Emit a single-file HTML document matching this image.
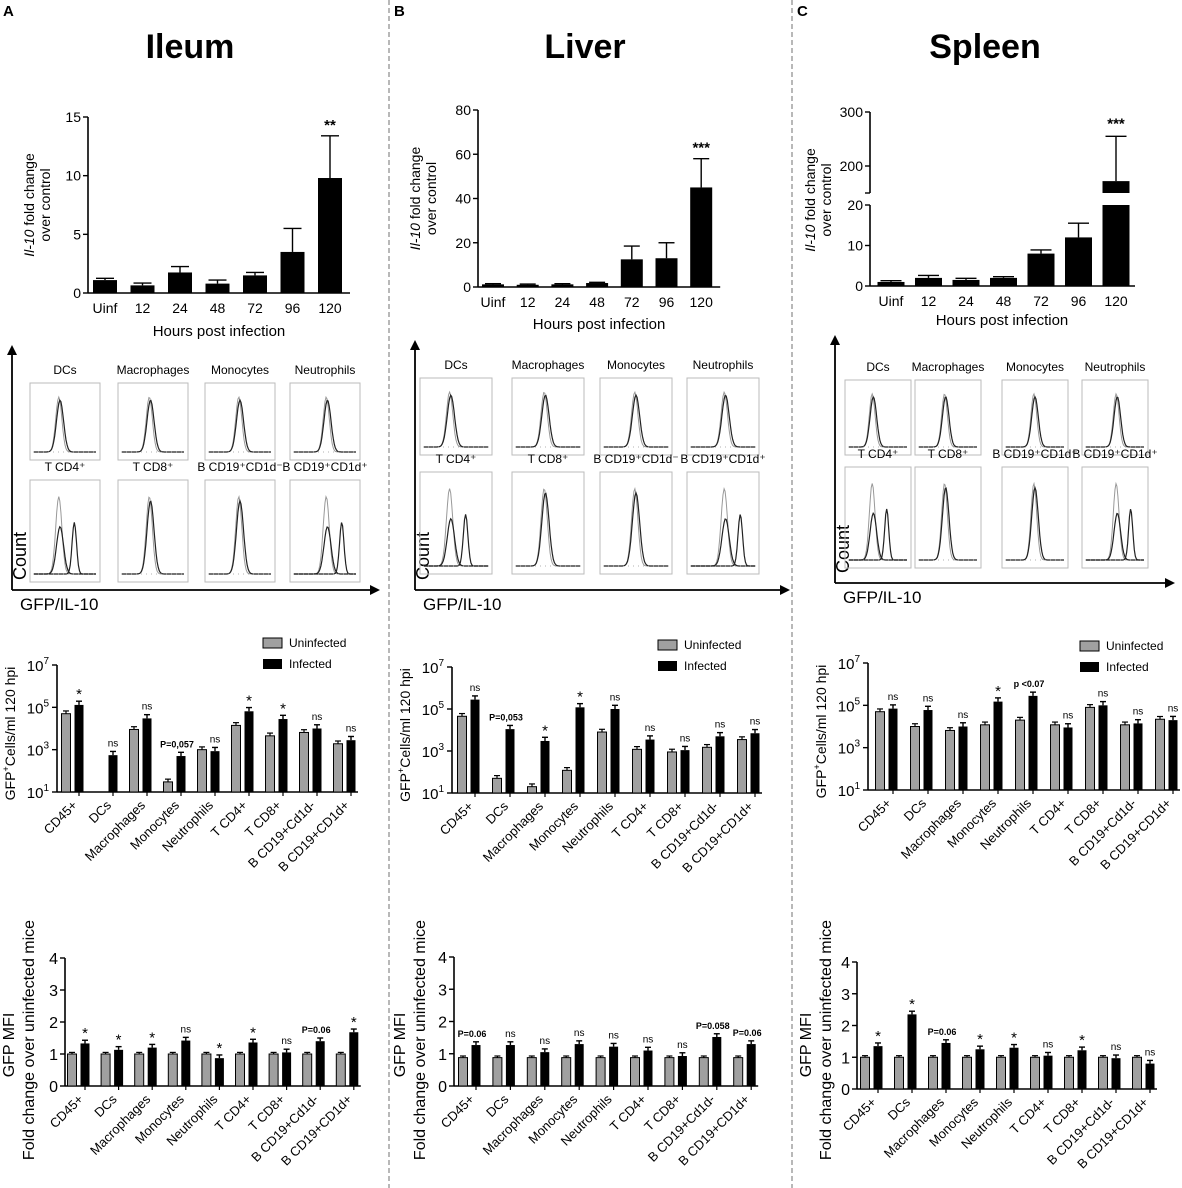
<!DOCTYPE html>
<html><head><meta charset="utf-8"><style>
body{margin:0;background:#fff}
svg{display:block;font-family:"Liberation Sans",Arial,sans-serif}
</style></head><body>
<svg id="fig" width="1182" height="1188" viewBox="0 0 1182 1188" xmlns="http://www.w3.org/2000/svg">
<line x1="389" y1="0" x2="389" y2="1188" stroke="#888" stroke-dasharray="5,3" stroke-width="1.2"/>
<line x1="792" y1="0" x2="792" y2="1188" stroke="#888" stroke-dasharray="5,3" stroke-width="1.2"/>
<text x="3" y="16" font-size="15" font-weight="bold">A</text>
<text x="394" y="16" font-size="15" font-weight="bold">B</text>
<text x="797" y="16" font-size="15" font-weight="bold">C</text>
<text x="190" y="58" font-size="34" font-weight="bold" text-anchor="middle">Ileum</text>
<text x="585" y="58" font-size="34" font-weight="bold" text-anchor="middle">Liver</text>
<text x="985" y="58" font-size="34" font-weight="bold" text-anchor="middle">Spleen</text>
</svg>
<script>
// ---------- DATA ----------
const hours = ["Uinf","12","24","48","72","96","120"];
const ileumIl10 = [1.1,0.65,1.75,0.8,1.5,3.5,9.8];
const ileumIl10Err = [0.15,0.2,0.5,0.3,0.25,2.0,3.6];
const liverIl10 = [1.2,1.0,1.2,1.8,12.5,13,45];
const liverIl10Err = [0.3,0.3,0.3,0.3,6,7,13];
const spleenIl10 = [1,2,1.5,2,8,12,172];
const spleenIl10Err = [0.3,0.6,0.4,0.3,0.9,3.5,83];
const ileumTicks = [0,5,10,15];
const liverTicks = [0,20,40,60,80];
const cells = ["CD45+","DCs","Macrophages","Monocytes","Neutrophils","T CD4+","T CD8+","B CD19+Cd1d-","B CD19+CD1d+"];
const ileumUninf = [5e4,null,9e3,30,1e3,1.4e4,4.5e3,6.5e3,1.9e3];
const ileumInf = [1.3e5,550,3e4,500,850,6.5e4,2.8e4,1e4,2.8e3];
const ileumSig = ["*","ns","ns","P=0,057","ns","*","*","ns","ns"];
const liverUninf = [4.5e4,50,20,120,8e3,1.2e3,900,1.5e3,3.5e3];
const liverInf = [2.8e5,1.1e4,3e3,1.2e5,1e5,3.5e3,1.1e3,5e3,7e3];
const liverSig = ["ns","P=0,053","*","*","ns","ns","ns","ns","ns"];
const spleenUninf = [5e4,1e4,6.5e3,1.2e4,2e4,1.2e4,8e4,1.2e4,2.2e4];
const spleenInf = [7e4,6e4,1e4,1.5e5,2.8e5,9e3,1e5,1.4e4,2e4];
const spleenSig = ["ns","ns","ns","*","p <0.07","ns","ns","ns","ns"];
const logTicks = [1,3,5,7];
const ileumMfiU = [1,1,1,1,1,1,1,1,1];
const ileumMfiI = [1.33,1.13,1.2,1.42,0.87,1.36,1.05,1.4,1.68];
const ileumMfiSig = ["*","*","*","ns","*","*","ns","P=0.06","*"];
const liverMfiU = [0.88,0.88,0.88,0.88,0.88,0.88,0.88,0.88,0.88];
const liverMfiI = [1.27,1.27,1.05,1.3,1.22,1.1,0.93,1.52,1.3];
const liverMfiSig = ["P=0.06","ns","ns","ns","ns","ns","ns","P=0.058","P=0.06"];
const spleenMfiU = [1,1,1,1,1,1,1,1,1];
const spleenMfiI = [1.35,2.35,1.45,1.25,1.3,1.05,1.22,0.97,0.8];
const spleenMfiSig = ["*","*","P=0.06","*","*","ns","*","ns","ns"];
const mfiTicks = [0,1,2,3,4];
const histRow1 = ["DCs","Macrophages","Monocytes","Neutrophils"];
const histRow2 = ["T CD4⁺","T CD8⁺","B CD19⁺CD1d⁻","B CD19⁺CD1d⁺"];

// ---------- helpers ----------
const NS="http://www.w3.org/2000/svg";
const svg=document.getElementById('fig');
function mk(tag,attrs,parent){const e=document.createElementNS(NS,tag);for(const k in attrs)e.setAttribute(k,attrs[k]);(parent||svg).appendChild(e);return e;}
function txt(x,y,s,size,extra,parent){const e=mk('text',Object.assign({x:x,y:y,'font-size':size},extra||{}),parent);e.textContent=s;return e;}

function topChart(name,vals,errs,ticks,ax,ymin,y0,yTop,xc0,step,bw,labelY,titleY,stars,tOff){
  const g=mk('g',{});
  
  
  const maxT=ticks[ticks.length-1];
  const ys=v=>y0-(v/maxT)*(y0-yTop);
  const xr=xc0+step*(vals.length-1)+bw/2+8;
  mk('line',{x1:ax,y1:yTop,x2:ax,y2:y0,stroke:'#000','stroke-width':1.6},g);
  mk('line',{x1:ax,y1:y0,x2:xr,y2:y0,stroke:'#000','stroke-width':1.6},g);
  ticks.forEach(t=>{mk('line',{x1:ax-5,y1:ys(t),x2:ax,y2:ys(t),stroke:'#000','stroke-width':1.4},g);
    const tl=txt(ax-7,ys(t)+5,String(t),14,{'text-anchor':'end'},g);
    
    });
  vals.forEach((v,i)=>{const cx=xc0+step*i;
    mk('line',{x1:cx,y1:ys(v),x2:cx,y2:ys(v+errs[i]),stroke:'#000','stroke-width':1.4},g);
    mk('line',{x1:cx-bw/2+3,y1:ys(v+errs[i]),x2:cx+bw/2-3,y2:ys(v+errs[i]),stroke:'#000','stroke-width':1.4},g);
    const r=mk('rect',{x:cx-bw/2,y:ys(v),width:bw,height:y0-ys(v),fill:'#000'},g);
    
    
    const l=txt(cx,labelY,hours[i],14,{'text-anchor':'middle'},g);
    
    });
  const last=vals.length-1;
  txt(xc0+step*last,ys(vals[last]+errs[last])-6,stars,15,{'text-anchor':'middle','font-weight':'bold'},g);
  const xt=txt((ax+xr)/2,titleY,'Hours post infection',15,{'text-anchor':'middle'},g);
  
  
  const yt=mk('text',{transform:`translate(${ax-tOff},${(y0+yTop)/2}) rotate(-90)`,'font-size':14,'text-anchor':'middle'},g);
  yt.innerHTML='<tspan font-style="italic">Il-10</tspan> fold change';
  
  
  txt(0,0,'over control',14,{transform:`translate(${ax-tOff+16},${(y0+yTop)/2}) rotate(-90)`,'text-anchor':'middle'},g);
}
topChart('ileum',ileumIl10,ileumIl10Err,ileumTicks,88,0,293,117,105,37.5,24,313,336,'**',54);
topChart('liver',liverIl10,liverIl10Err,liverTicks,478,0,287,110,493,34.7,22,307,329,'***',58);

// spleen broken axis
(function(){
  const g=mk('g',{});
  
  
  const ax=870,y0=286,y20=205,yBrk=193;
  const ys=v=> v<=20 ? y0-(v/20)*(y0-y20) : 166-(v-200)*0.54;
  mk('line',{x1:ax,y1:y0,x2:ax,y2:y20,stroke:'#000','stroke-width':1.6},g);
  mk('line',{x1:ax,y1:yBrk,x2:ax,y2:112,stroke:'#000','stroke-width':1.6},g);
  mk('line',{x1:ax-5,y1:yBrk,x2:ax,y2:yBrk,stroke:'#000','stroke-width':1.4},g);
  mk('line',{x1:ax,y1:y0,x2:1135,y2:y0,stroke:'#000','stroke-width':1.6},g);
  [0,10,20].forEach(t=>{mk('line',{x1:ax-5,y1:ys(t),x2:ax,y2:ys(t),stroke:'#000','stroke-width':1.4},g);txt(ax-7,ys(t)+5,String(t),14,{'text-anchor':'end'},g);});
  [200,300].forEach(t=>{mk('line',{x1:ax-5,y1:ys(t),x2:ax,y2:ys(t),stroke:'#000','stroke-width':1.4},g);txt(ax-7,ys(t)+5,String(t),14,{'text-anchor':'end'},g);});
  const step=37.5,bw=27,xc0=891;
  spleenIl10.forEach((v,i)=>{const cx=xc0+step*i;const top=v+spleenIl10Err[i];
    mk('line',{x1:cx,y1:ys(v),x2:cx,y2:ys(top),stroke:'#000','stroke-width':1.4},g);
    mk('line',{x1:cx-bw/2+3,y1:ys(top),x2:cx+bw/2-3,y2:ys(top),stroke:'#000','stroke-width':1.4},g);
    if(v<=20){const r=mk('rect',{x:cx-bw/2,y:ys(v),width:bw,height:y0-ys(v),fill:'#000'},g);
      
      }
    else{const r=mk('rect',{x:cx-bw/2,y:y20,width:bw,height:y0-y20,fill:'#000'},g);
      
      
      mk('rect',{x:cx-bw/2,y:ys(v),width:bw,height:yBrk-ys(v),fill:'#000'},g);}
    txt(cx,306,hours[i],14,{'text-anchor':'middle'},g);});
  txt(xc0+step*6,ys(spleenIl10[6]+spleenIl10Err[6])-8,'***',15,{'text-anchor':'middle','font-weight':'bold'},g);
  txt(1002,325,'Hours post infection',15,{'text-anchor':'middle'},g);
  const yt=mk('text',{transform:`translate(${ax-55},200) rotate(-90)`,'font-size':14,'text-anchor':'middle'},g);
  yt.innerHTML='<tspan font-style="italic">Il-10</tspan> fold change';
  txt(0,0,'over control',14,{transform:`translate(${ax-39},200) rotate(-90)`,'text-anchor':'middle'},g);
})();

// ---------- histograms ----------
function peak(x0,w,yb,h,c,s,amp){let d='';for(let i=0;i<=60;i++){const x=x0+w*i/60;const y=yb-amp*h*Math.exp(-Math.pow((x-(x0+w*c))/(w*s),2));d+=(i?'L':'M')+x.toFixed(1)+','+y.toFixed(1);}return d;}
function histPanel(name,axX,axTop,axY,axRight,xs,w,r1,r2){
  const g=mk('g',{});
  
  
  mk('line',{x1:axX,y1:axY,x2:axX,y2:axTop+8,stroke:'#000','stroke-width':1.8},g);
  mk('polygon',{points:`${axX-5},${axTop+10} ${axX+5},${axTop+10} ${axX},${axTop}`,fill:'#000'},g);
  mk('line',{x1:axX,y1:axY,x2:axRight-8,y2:axY,stroke:'#000','stroke-width':1.8},g);
  mk('polygon',{points:`${axRight-10},${axY-5} ${axRight-10},${axY+5} ${axRight},${axY}`,fill:'#000'},g);
  txt(0,0,'Count',18,{transform:`translate(${axX+14},${axY-10}) rotate(-90)`},g);
  txt(axX+8,axY+20,'GFP/IL-10',17,{},g);
  [[r1,histRow1],[r2,histRow2]].forEach(([r,labels],ri)=>{
    labels.forEach((lab,i)=>{const x=xs[i];
      const b=mk('rect',{x:x,y:r[0],width:w,height:r[1]-r[0],fill:'none',stroke:'#bbb','stroke-width':1},g);
      
      
      txt(x+w/2,r[0]-9,lab,12,{'text-anchor':'middle'},g);
      const yb=r[1]-8,h=r[1]-r[0]-16;
      const c=0.4+0.04*i, two=(ri===1&&(i===0||i===3));
      mk('path',{d:peak(x+4,w-8,yb,h,c,0.07,0.9),fill:'none',stroke:'#999','stroke-width':1},g);
      mk('path',{d:peak(x+4,w-8,yb,h,c+0.02,0.08,two?0.55:0.85),fill:'none',stroke:'#222','stroke-width':1.2},g);
      if(two) mk('path',{d:peak(x+4,w-8,yb,h,c+0.25,0.05,0.6),fill:'none',stroke:'#222','stroke-width':1.2},g);
      mk('line',{x1:x+3,y1:yb,x2:x+w-3,y2:yb,stroke:'#999','stroke-width':0.8,'stroke-dasharray':'1,4'},g);
    });});
}
histPanel('ileum',12,345,590,380,[30,118,205,290],70,[383,460],[480,582]);
histPanel('liver',415,340,590,790,[420,512,600,687],72,[378,455],[472,574]);
histPanel('spleen',835,335,583,1175,[845,915,1002,1082],66,[380,455],[467,568]);

// ---------- grouped bar charts ----------
function grouped(name,U,I,sig,ax,x0,step,y0,yTop,ticks,logScale,legend,ytitle,off1,off2){
  const g=mk('g',{});
  
  
  const lo=ticks[0],hi=ticks[ticks.length-1];
  const ys=v=>{const t=logScale?Math.log10(v):v;return y0-(t-lo)/(hi-lo)*(y0-yTop);};
  const xr=x0+step*(U.length-1)+20;
  mk('line',{x1:ax,y1:yTop,x2:ax,y2:y0,stroke:'#000','stroke-width':1.6},g);
  mk('line',{x1:ax,y1:y0,x2:xr,y2:y0,stroke:'#000','stroke-width':1.6},g);
  ticks.forEach(t=>{const y=y0-(t-lo)/(hi-lo)*(y0-yTop);
    mk('line',{x1:ax-5,y1:y,x2:ax,y2:y,stroke:'#000','stroke-width':1.4},g);
    if(logScale){const e=mk('text',{x:ax-8,y:y+6,'font-size':15,'text-anchor':'end'},g);e.innerHTML='10<tspan font-size="10" dy="-7">'+t+'</tspan>';}
    else txt(ax-7,y+6,String(t),16,{'text-anchor':'end'},g);});
  const bw=9,off=13;
  U.forEach((u,i)=>{const cx=x0+step*i;
    mk('line',{x1:cx+off,y1:y0,x2:cx+off,y2:y0+4,stroke:'#000','stroke-width':1.2},g);
    if(u!=null){const yu=ys(u),ye=ys(logScale?u*1.35:u+0.05);
      mk('line',{x1:cx,y1:yu,x2:cx,y2:ye,stroke:'#000','stroke-width':1.2},g);
      mk('line',{x1:cx-3,y1:ye,x2:cx+3,y2:ye,stroke:'#000','stroke-width':1.2},g);
      const r=mk('rect',{x:cx-bw/2,y:yu,width:bw,height:y0-yu,fill:'#a0a0a0',stroke:'#000','stroke-width':1},g);
      
      }
    const bx=cx+off,v=I[i],yi=ys(v),ye=ys(logScale?v*1.5:v+0.1);
    mk('line',{x1:bx,y1:yi,x2:bx,y2:ye,stroke:'#000','stroke-width':1.4},g);
    mk('line',{x1:bx-3,y1:ye,x2:bx+3,y2:ye,stroke:'#000','stroke-width':1.4},g);
    const r2=mk('rect',{x:bx-bw/2,y:yi,width:bw,height:y0-yi,fill:'#000'},g);
    
    
    const s=sig[i],star=s==='*';
    txt(s.length>3?bx-4:bx,ye-(star?2:5),s,star?15:(s.length>3?9:10),{'text-anchor':'middle','font-weight':s.length>3?'bold':'normal'},g);
    const l=txt(0,0,cells[i],13,{transform:`translate(${cx+12},${y0+14}) rotate(-45)`,'text-anchor':'end'},g);
    
    });
  if(legend){const [lx,ly]=legend;
    const a=mk('rect',{x:lx,y:ly,width:19,height:10,fill:'#a0a0a0',stroke:'#000','stroke-width':1},g);
    
    
    txt(lx+26,ly+9,'Uninfected',12,{},g);
    const b=mk('rect',{x:lx,y:ly+21,width:19,height:10,fill:'#000'},g);
    
    
    txt(lx+26,ly+30,'Infected',12,{},g);}
  if(ytitle==='log'){const e=mk('text',{transform:`translate(${ax-42},${(y0+yTop)/2+5}) rotate(-90)`,'font-size':14,'text-anchor':'middle'},g);
    e.innerHTML='GFP<tspan font-size="9" dy="-6">+</tspan><tspan dy="6">Cells/ml 120 hpi</tspan>';}
  else{const f=txt(0,0,'Fold change over uninfected mice',16,{transform:`translate(${ax-off1},1040) rotate(-90)`,'text-anchor':'middle'},g);
    
    
    txt(0,0,'GFP MFI',16,{transform:`translate(${ax-off2},1045) rotate(-90)`,'text-anchor':'middle'},g);}
}
grouped('ileum-gfp-cells-chart',ileumUninf,ileumInf,ileumSig,57,66,34,792,665,logTicks,true,[263,638],'log');
grouped('liver-gfp-cells-chart',liverUninf,liverInf,liverSig,452,462,35,793,667,logTicks,true,[658,640],'log');
grouped('spleen-gfp-cells-chart',spleenUninf,spleenInf,spleenSig,868,880,35,790,663,logTicks,true,[1080,641],'log');
grouped('ileum-mfi-chart',ileumMfiU,ileumMfiI,ileumMfiSig,65,72,33.6,1086,958,mfiTicks,false,null,'mfi',31,51);
grouped('liver-mfi-chart',liverMfiU,liverMfiI,liverMfiSig,454,463,34.4,1086,957,mfiTicks,false,null,'mfi',29,49);
grouped('spleen-mfi-chart',spleenMfiU,spleenMfiI,spleenMfiSig,857,865,34,1089,962,mfiTicks,false,null,'mfi',26,46);
</script>
</body></html>
